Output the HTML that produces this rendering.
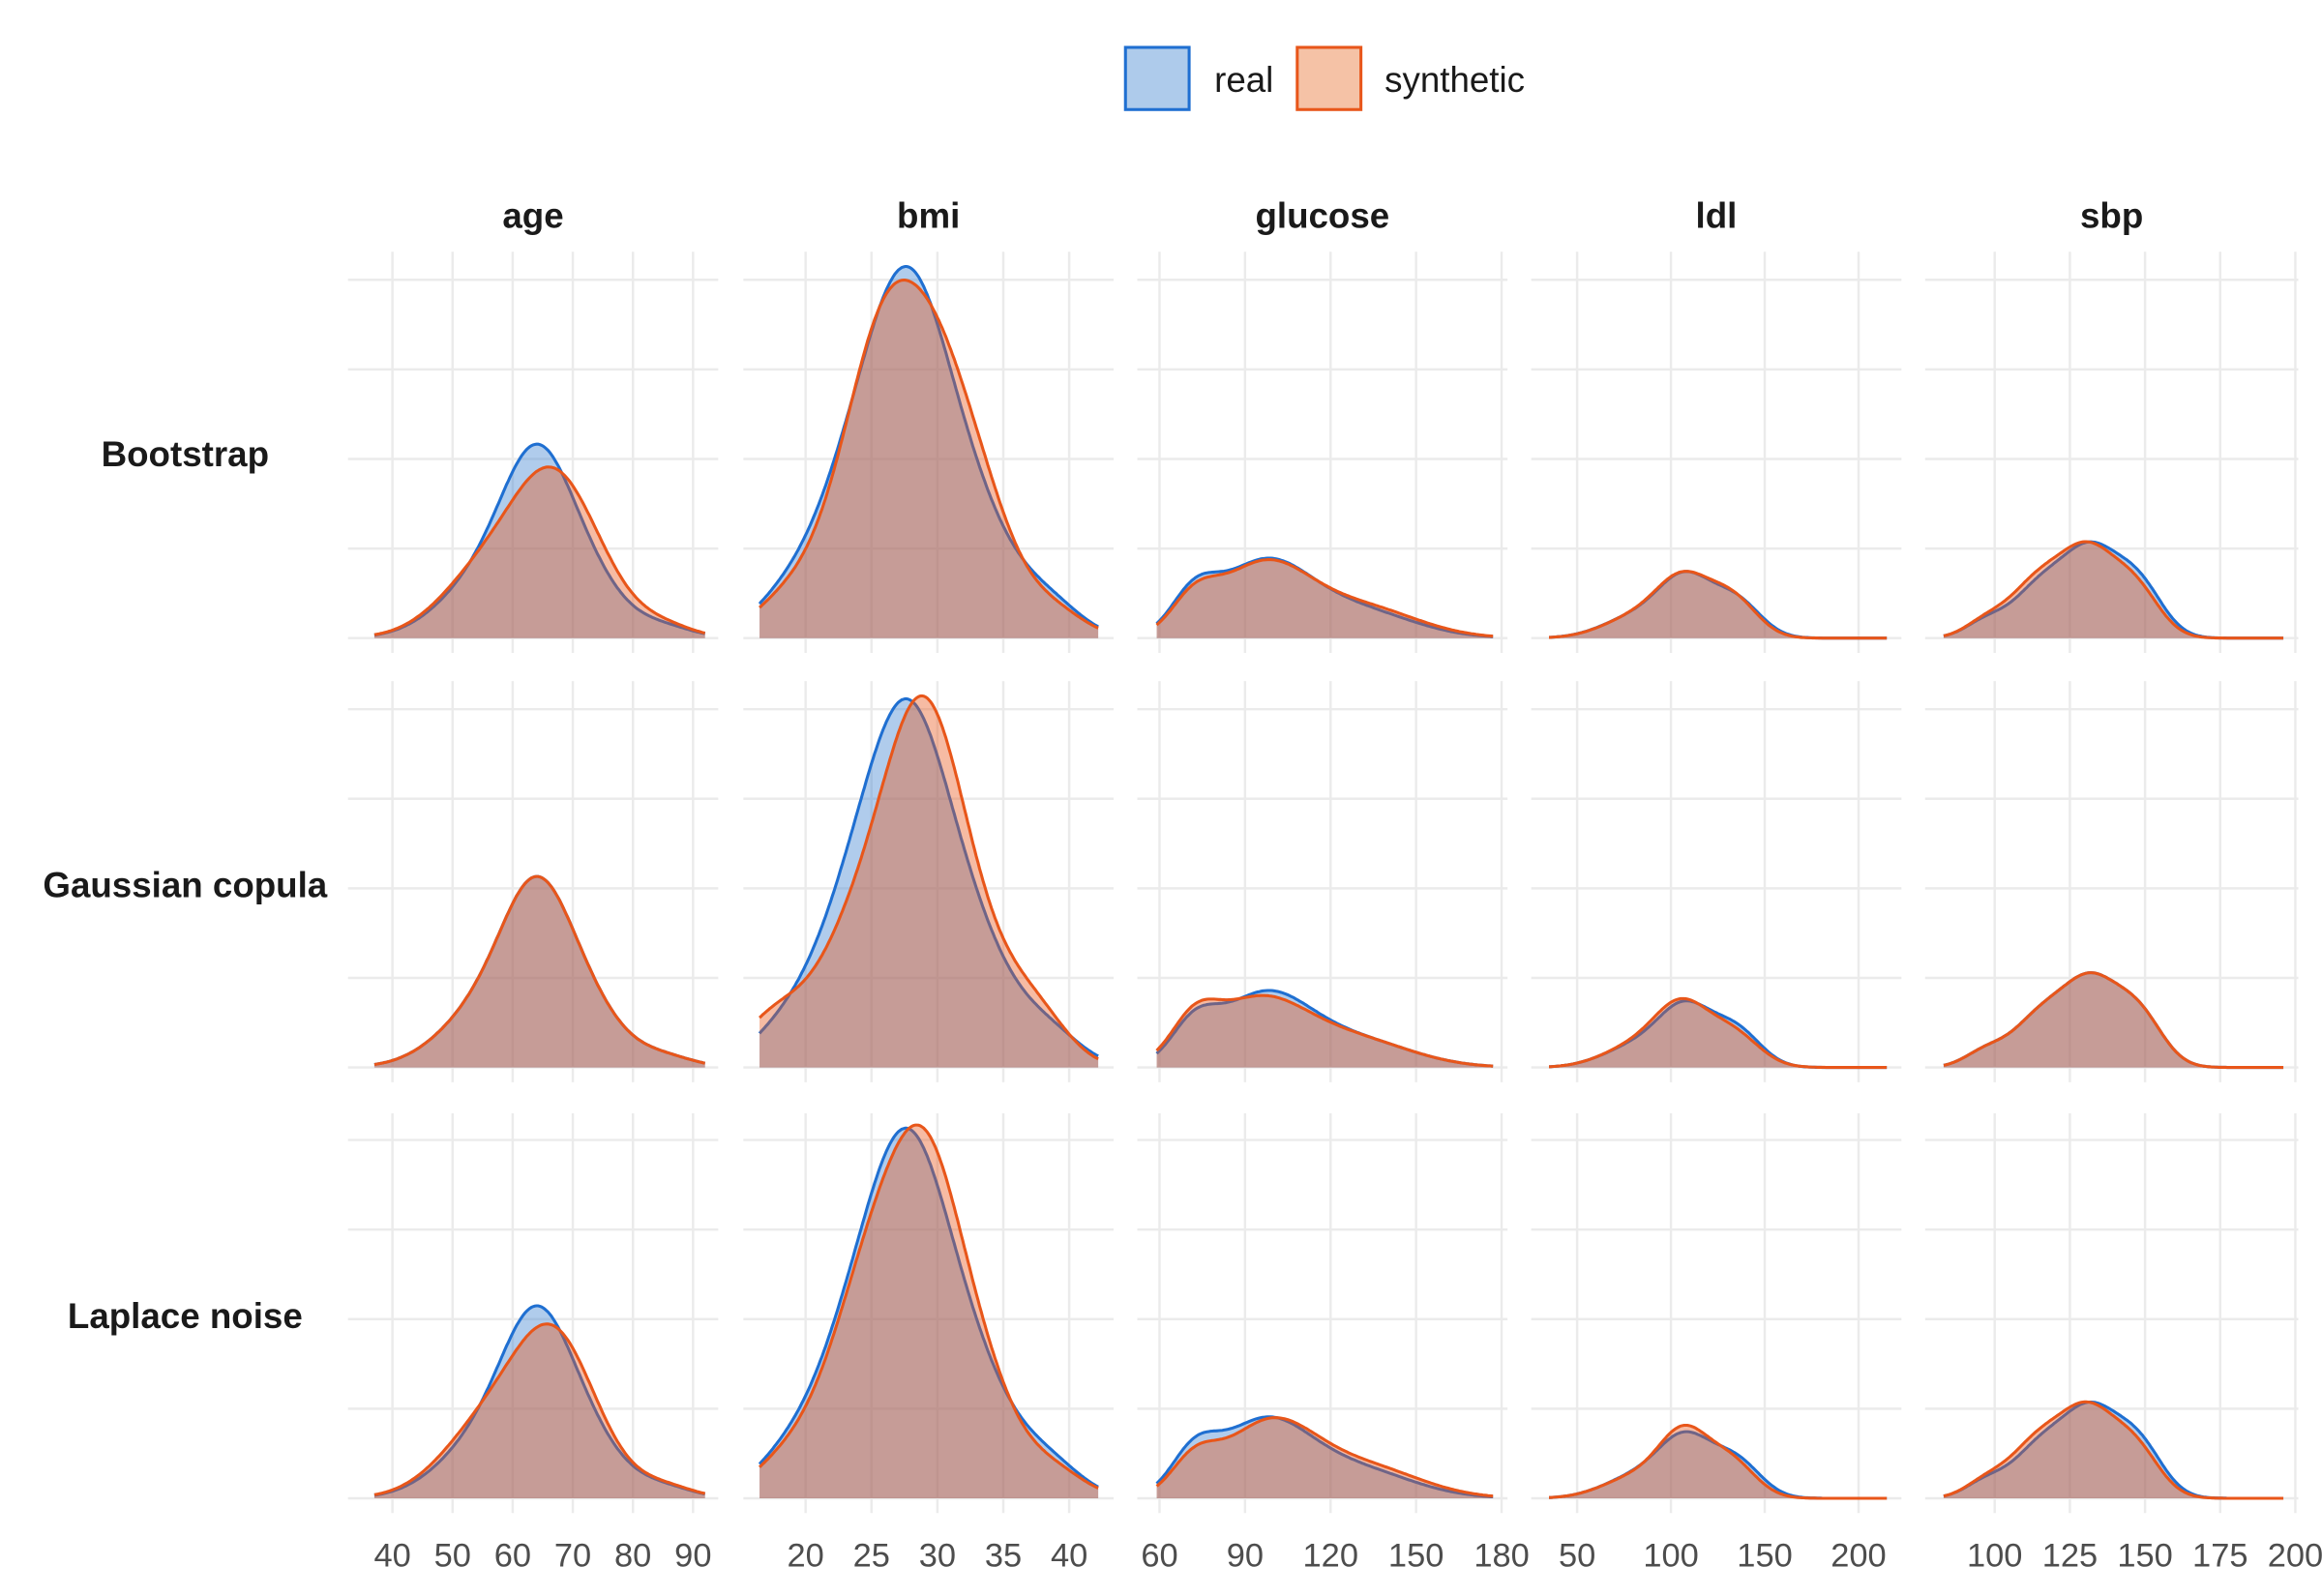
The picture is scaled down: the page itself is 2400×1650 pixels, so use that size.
<!DOCTYPE html>
<html><head><meta charset="utf-8"><style>
html,body{margin:0;padding:0;background:#fff}
svg{display:block}
text{font-family:"Liberation Sans",Arial,sans-serif}
</style></head><body>
<svg id="s" width="2400" height="1650" viewBox="0 0 1568 1078" preserveAspectRatio="none" xmlns="http://www.w3.org/2000/svg">
<rect width="1568" height="1078" fill="#fff"/>
<g id="grid"></g>
<g id="curves"></g>
<g font-size="24" font-weight="bold" fill="#1a1a1a" text-anchor="middle">
<text x="360" y="154">age</text><text x="627" y="154">bmi</text><text x="893" y="154">glucose</text><text x="1159" y="154">ldl</text><text x="1426" y="154">sbp</text>
<text x="125" y="315">Bootstrap</text><text x="125" y="606">Gaussian copula</text><text x="125" y="897">Laplace noise</text>
</g>
<g font-size="24" fill="#1a1a1a">
<rect x="760" y="32" width="43" height="42" fill="#aecbeb" stroke="#1f6fd1" stroke-width="2"/>
<text x="820" y="62">real</text>
<rect x="876" y="32" width="43" height="42" fill="#f5c2a6" stroke="#e8561a" stroke-width="2"/>
<text x="935" y="62">synthetic</text>
</g>
<g id="ticks" font-size="22.5" fill="#4d4d4d" text-anchor="middle"></g>
</svg>
<script>
const NS="http://www.w3.org/2000/svg";
function el(t,a,p){const e=document.createElementNS(NS,t);for(const k in a)e.setAttribute(k,a[k]);if(p)p.appendChild(e);return e;}
const grid=document.getElementById('grid'),cur=document.getElementById('curves'),tk=document.getElementById('ticks');
const panelsX=[[235,485],[502,752],[768,1018],[1034,1284],[1300,1552]];
const rowBase=[431,721,1012];
const rowTop=[170,460,752];
const cols=[
 {x0:265,v0:40,s:4.06,lo:37,hi:92,ticks:[40,50,60,70,80,90],
  real:[[1,64,5.5],[0.8,57,8],[0.5,72,6],[0.08,85,5]],peaks:[131,129,130],
  syn:[[[0.8,66,6],[0.8,57,8],[0.45,73,6],[0.08,85,5]],[[1,64,5.5],[0.8,57,8],[0.5,72,6],[0.08,85,5]],[[0.8,66,6],[0.85,57,8],[0.4,72,6],[0.08,85,5]]]},
 {x0:544,v0:20,s:8.9,lo:16.5,hi:42.2,ticks:[20,25,30,35,40],
  real:[[1,27.8,3.1],[0.35,23,3],[0.3,33,3],[0.08,38.5,2.5],[0.07,18,2.5]],peaks:[251,249,250],
  syn:[[[0.6,26,2.6],[0.6,29.8,2.6],[0.3,23,3],[0.28,33.5,2.5],[0.08,38.5,2.5],[0.07,18,2.5]],[[1,28.8,3.0],[0.35,23.5,3],[0.25,33,3],[0.12,17.5,2.5],[0.12,37.5,2.5]],[[0.5,26,2.8],[0.7,29.5,2.6],[0.3,23,3],[0.25,33.5,2.5],[0.08,38.5,2.5],[0.07,18,2.5]]]},
 {x0:783,v0:60,s:1.925,lo:59,hi:177,ticks:[60,90,120,150,180],
  real:[[1,96,16],[0.5,128,20],[0.25,72,8]],peaks:[54,52,55],
  syn:[[[1,96,16],[0.55,130,20],[0.22,72,8]],[[1,94,17],[0.5,128,20],[0.25,72,8]],[[1,98,16],[0.55,131,20],[0.22,72,8]]]},
 {x0:1065,v0:50,s:1.267,lo:35,hi:215,ticks:[50,100,150,200],
  real:[[1,108,14],[0.6,135,13],[0.5,82,18]],peaks:[45,45,45],
  syn:[[[1,107,14],[0.65,133,13],[0.5,82,18]],[[1,106,14],[0.6,133,14],[0.5,82,18]],[[1,107,13],[0.6,132,13],[0.5,82,18]]]},
 {x0:1347,v0:100,s:2.03,lo:83,hi:196,ticks:[100,125,150,175,200],
  real:[[1,132,9],[0.6,115,9],[0.55,148,8],[0.15,97,7]],peaks:[65,64,65],
  syn:[[[1,131,9],[0.65,114,9],[0.5,147,8],[0.15,97,7]],[[1,132,9],[0.6,115,9],[0.55,148,8],[0.15,97,7]],[[1,131,9],[0.65,114,9],[0.5,147,8],[0.15,97,7]]]}
];
function dens(m,v){let s=0,w=0;for(const [a] of m){w+=a;}for(const [a,mu,sd] of m){s+=a/w*Math.exp(-0.5*((v-mu)/sd)**2)/sd;}return s;}
cols.forEach((c,ci)=>{
 const [px0,px1]=panelsX[ci];
 c.ticks.forEach(t=>{const x=c.x0+(t-c.v0)*c.s;el('text',{x:x,y:1058},tk).textContent=t;});
 for(let r=0;r<3;r++){
  const b=rowBase[r],top=rowTop[r];
  for(let k=0;k<5;k++){const y=b-k*60.5;el('line',{x1:px0,x2:px1,y1:y,y2:y,stroke:'#ebebeb','stroke-width':1.6},grid);}
  c.ticks.forEach(t=>{const x=c.x0+(t-c.v0)*c.s;if(x<=px1+2)el('line',{x1:x,x2:x,y1:top,y2:b+10,stroke:'#ebebeb','stroke-width':1.6},grid);});
  let mx=0;for(let v=c.lo;v<=c.hi;v+=(c.hi-c.lo)/400)mx=Math.max(mx,dens(c.real,v));
  const k=c.peaks[r]/mx;
  [[c.real,'#3a7fd0','#1f6fd1'],[c.syn[r],'#e8561a','#e8561a']].forEach(([m,f,st])=>{
   let pts=[];const N=200;
   for(let i=0;i<=N;i++){const v=c.lo+(c.hi-c.lo)*i/N;pts.push([(c.x0+(v-c.v0)*c.s).toFixed(1),(b-dens(m,v)*k).toFixed(1)]);}
   const line=pts.map((p,i)=>(i?'L':'M')+p[0]+','+p[1]).join('');
   el('path',{d:line+'L'+pts[N][0]+','+b+'L'+pts[0][0]+','+b+'Z',fill:f,'fill-opacity':0.4},cur);
   el('path',{d:line,fill:'none',stroke:st,'stroke-width':2},cur);
  });
 }
});
</script>
</body></html>
